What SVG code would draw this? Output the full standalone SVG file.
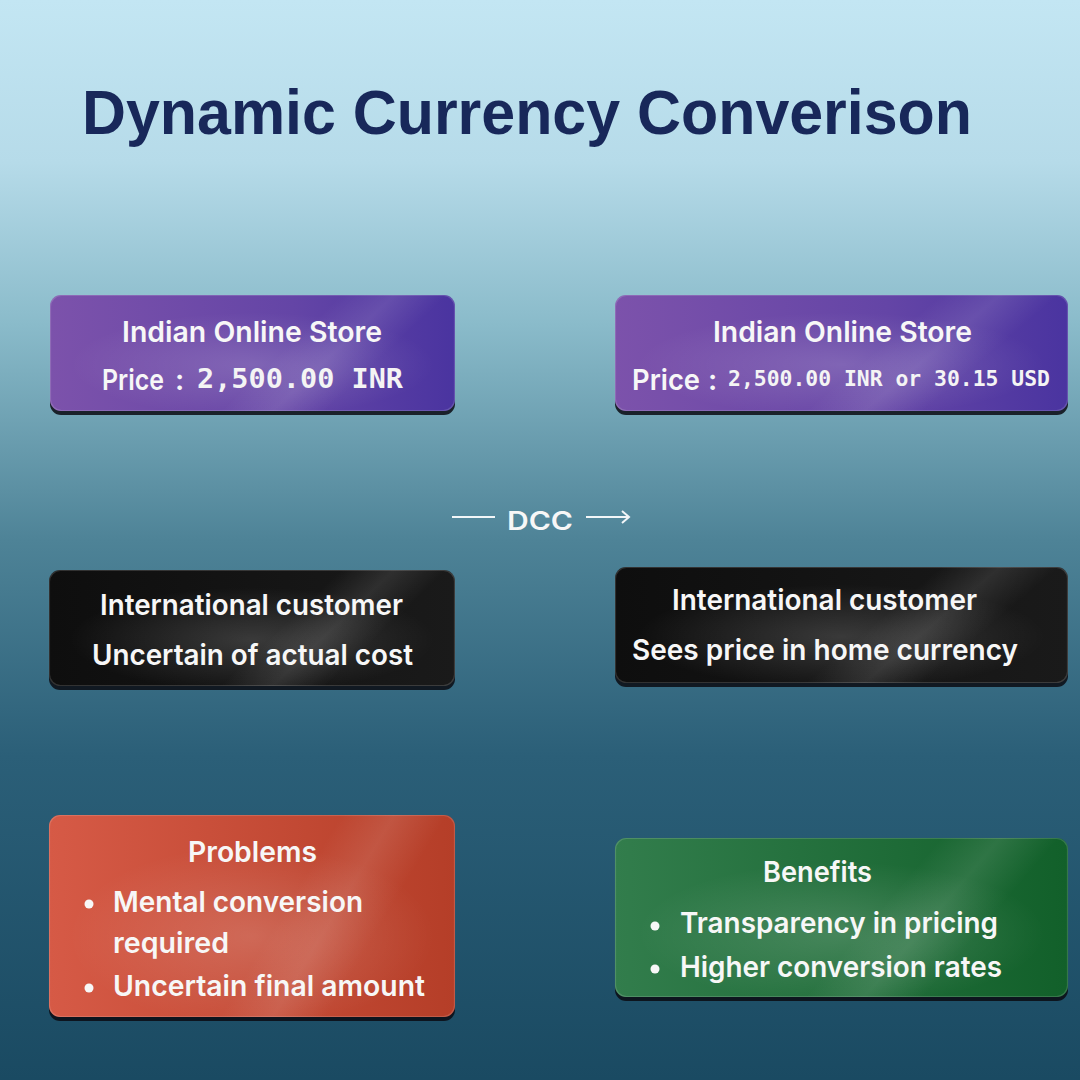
<svg xmlns="http://www.w3.org/2000/svg" width="1080" height="1080" viewBox="0 0 1080 1080">
<defs>
<linearGradient id="bg" x1="0" y1="0" x2="0" y2="1">
<stop offset="0" stop-color="#c3e6f3"/>
<stop offset="0.15" stop-color="#b6dbe9"/>
<stop offset="0.3" stop-color="#8abbca"/>
<stop offset="0.5" stop-color="#4e8397"/>
<stop offset="0.7" stop-color="#2b5f78"/>
<stop offset="1" stop-color="#1a4a62"/>
</linearGradient>
<linearGradient id="gPurple" x1="0" y1="0" x2="1" y2="0">
<stop offset="0" stop-color="#7c52ab"/>
<stop offset="0.6" stop-color="#6445a6"/>
<stop offset="1" stop-color="#4a34a0"/>
</linearGradient>
<linearGradient id="gBlack" x1="0" y1="0" x2="1" y2="0">
<stop offset="0" stop-color="#0e0e0e"/>
<stop offset="1" stop-color="#1a1a1a"/>
</linearGradient>
<linearGradient id="gRed" x1="0" y1="0" x2="1" y2="0">
<stop offset="0" stop-color="#d65a46"/>
<stop offset="1" stop-color="#b53e28"/>
</linearGradient>
<linearGradient id="gGreen" x1="0" y1="0" x2="1" y2="0">
<stop offset="0" stop-color="#327d4c"/>
<stop offset="1" stop-color="#12602a"/>
</linearGradient>
<radialGradient id="glow" cx="0.5" cy="0.6" r="0.45">
<stop offset="0" stop-color="#ffffff" stop-opacity="0.16"/>
<stop offset="1" stop-color="#ffffff" stop-opacity="0"/>
</radialGradient>
<linearGradient id="streak" x1="0" y1="0" x2="1" y2="0.3">
<stop offset="0.66" stop-color="#ffffff" stop-opacity="0"/>
<stop offset="0.78" stop-color="#ffffff" stop-opacity="0.1"/>
<stop offset="0.9" stop-color="#ffffff" stop-opacity="0"/>
</linearGradient>
</defs>
<style>
.shadow{fill:#0b0b12;opacity:0.85}
.edge{fill:none;stroke:#ffffff;stroke-opacity:0.15;stroke-width:1.2}
.t{font-family:Inter,"Noto Sans","Liberation Sans",sans-serif;font-weight:600;fill:#f7f7f7}
.m{font-family:"DejaVu Sans Mono","Liberation Mono",monospace;font-weight:bold;fill:#f4f4f4}
.title{font-family:"Liberation Sans",Arial,sans-serif;font-weight:bold;fill:#18285a}
.dot{fill:#f7f7f7}
.conn{stroke:#f2f6f8;stroke-width:2;fill:none}
</style>
<rect width="1080" height="1080" fill="url(#bg)"/>
<text class="title" x="82" y="134" font-size="63" textLength="890" lengthAdjust="spacingAndGlyphs">Dynamic Currency Converison</text>

<g id="store-before">
<rect class="shadow" x="50" y="299" width="405" height="116" rx="11"/>
<rect x="50" y="295" width="405" height="116" rx="11" fill="url(#gPurple)"/>
<rect x="50" y="295" width="405" height="116" rx="11" fill="url(#glow)"/>
<rect x="50" y="295" width="405" height="116" rx="11" fill="url(#streak)"/>
<rect class="edge" x="50.5" y="295.5" width="404" height="115" rx="11"/>
<text class="t" x="122" y="342" font-size="29" textLength="260" lengthAdjust="spacingAndGlyphs">Indian Online Store</text>
<text class="t" x="102" y="390" font-size="29" textLength="62" lengthAdjust="spacingAndGlyphs">Price</text>
<text class="t" x="175" y="390" font-size="29">:</text>
<text class="m" x="197" y="388" font-size="27" textLength="206" lengthAdjust="spacingAndGlyphs">2,500.00 INR</text>
</g>

<g id="store-after">
<rect class="shadow" x="615" y="299" width="453" height="116" rx="11"/>
<rect x="615" y="295" width="453" height="116" rx="11" fill="url(#gPurple)"/>
<rect x="615" y="295" width="453" height="116" rx="11" fill="url(#glow)"/>
<rect x="615" y="295" width="453" height="116" rx="11" fill="url(#streak)"/>
<rect class="edge" x="615.5" y="295.5" width="452" height="115" rx="11"/>
<text class="t" x="713" y="342" font-size="29" textLength="259" lengthAdjust="spacingAndGlyphs">Indian Online Store</text>
<text class="t" x="632" y="390" font-size="29" textLength="68" lengthAdjust="spacingAndGlyphs">Price</text>
<text class="t" x="708" y="390" font-size="29">:</text>
<text class="m" x="728" y="386" font-size="21" textLength="322" lengthAdjust="spacingAndGlyphs">2,500.00 INR or 30.15 USD</text>
</g>

<g id="connectors">
<line class="conn" x1="452" y1="517" x2="495" y2="517"/>
<text class="t" x="507" y="530" font-size="25" textLength="66" lengthAdjust="spacingAndGlyphs">DCC</text>
<line class="conn" x1="586" y1="517" x2="629" y2="517"/>
<polyline class="conn" points="622,511 629,517 622,523"/>
</g>

<g id="customer-before">
<rect class="shadow" x="49" y="574" width="406" height="116" rx="11"/>
<rect x="49" y="570" width="406" height="116" rx="11" fill="url(#gBlack)"/>
<rect x="49" y="570" width="406" height="116" rx="11" fill="url(#glow)"/>
<rect x="49" y="570" width="406" height="116" rx="11" fill="url(#streak)"/>
<rect class="edge" x="49.5" y="570.5" width="405" height="115" rx="11"/>
<text class="t" x="100" y="615" font-size="29" textLength="303" lengthAdjust="spacingAndGlyphs">International customer</text>
<text class="t" x="92" y="665" font-size="29" textLength="321" lengthAdjust="spacingAndGlyphs">Uncertain of actual cost</text>
</g>

<g id="customer-after">
<rect class="shadow" x="615" y="571" width="453" height="116" rx="11"/>
<rect x="615" y="567" width="453" height="116" rx="11" fill="url(#gBlack)"/>
<rect x="615" y="567" width="453" height="116" rx="11" fill="url(#glow)"/>
<rect x="615" y="567" width="453" height="116" rx="11" fill="url(#streak)"/>
<rect class="edge" x="615.5" y="567.5" width="452" height="115" rx="11"/>
<text class="t" x="672" y="610" font-size="29" textLength="305" lengthAdjust="spacingAndGlyphs">International customer</text>
<text class="t" x="632" y="660" font-size="29" textLength="386" lengthAdjust="spacingAndGlyphs">Sees price in home currency</text>
</g>

<g id="problems">
<rect class="shadow" x="49" y="819" width="406" height="202" rx="11"/>
<rect x="49" y="815" width="406" height="202" rx="11" fill="url(#gRed)"/>
<rect x="49" y="815" width="406" height="202" rx="11" fill="url(#glow)"/>
<rect x="49" y="815" width="406" height="202" rx="11" fill="url(#streak)"/>
<rect class="edge" x="49.5" y="815.5" width="405" height="201" rx="11"/>
<text class="t" x="188" y="862" font-size="29" textLength="129" lengthAdjust="spacingAndGlyphs">Problems</text>
<circle class="dot" cx="89" cy="904" r="4.5"/>
<text class="t" x="113" y="912" font-size="29" textLength="250" lengthAdjust="spacingAndGlyphs">Mental conversion</text>
<text class="t" x="113" y="953" font-size="29" textLength="116" lengthAdjust="spacingAndGlyphs">required</text>
<circle class="dot" cx="89" cy="988" r="4.5"/>
<text class="t" x="113" y="996" font-size="29" textLength="312" lengthAdjust="spacingAndGlyphs">Uncertain final amount</text>
</g>

<g id="benefits">
<rect class="shadow" x="615" y="842" width="453" height="159" rx="11"/>
<rect x="615" y="838" width="453" height="159" rx="11" fill="url(#gGreen)"/>
<rect x="615" y="838" width="453" height="159" rx="11" fill="url(#glow)"/>
<rect x="615" y="838" width="453" height="159" rx="11" fill="url(#streak)"/>
<rect class="edge" x="615.5" y="838.5" width="452" height="158" rx="11"/>
<text class="t" x="763" y="882" font-size="29" textLength="109" lengthAdjust="spacingAndGlyphs">Benefits</text>
<circle class="dot" cx="655" cy="926" r="4.5"/>
<text class="t" x="680" y="933" font-size="29" textLength="318" lengthAdjust="spacingAndGlyphs">Transparency in pricing</text>
<circle class="dot" cx="655" cy="969" r="4.5"/>
<text class="t" x="680" y="977" font-size="29" textLength="322" lengthAdjust="spacingAndGlyphs">Higher conversion rates</text>
</g>
</svg>
